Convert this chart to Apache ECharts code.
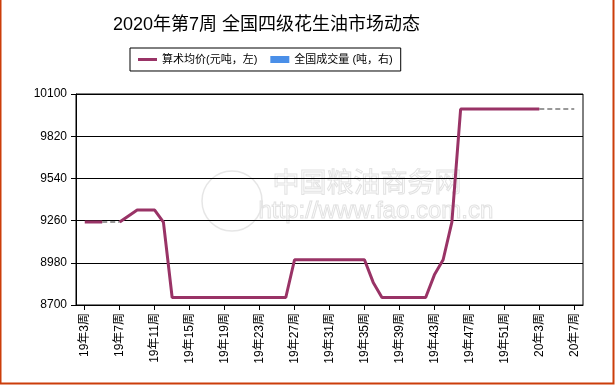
<!DOCTYPE html>
<html>
<head>
<meta charset="utf-8">
<script src="https://cdn.jsdelivr.net/npm/echarts@6/dist/echarts.min.js"></script>
<style>
html,body{margin:0;padding:0;background:#fff;}
#c{width:615px;height:385px;}
</style>
</head>
<body>
<div id="c"></div>
<script>
var titleText = '2020年第7周 全国四级花生油市场动态';
var priceName = '算术均价(元吨，左)';
var volumeName = '全国成交量 (吨，右)';
var weeks = [
  '19年3周','19年4周','19年5周','19年6周','19年7周','19年8周','19年9周','19年10周',
  '19年11周','19年12周','19年13周','19年14周','19年15周','19年16周','19年17周','19年18周',
  '19年19周','19年20周','19年21周','19年22周','19年23周','19年24周','19年25周','19年26周',
  '19年27周','19年28周','19年29周','19年30周','19年31周','19年32周','19年33周','19年34周',
  '19年35周','19年36周','19年37周','19年38周','19年39周','19年40周','19年41周','19年42周',
  '19年43周','19年44周','19年45周','19年46周','19年47周','19年48周','19年49周','19年50周',
  '19年51周','19年52周','20年1周','20年2周','20年3周','20年4周','20年5周','20年6周','20年7周'
];
var price = [
  9250, 9250, 9250, null, 9250, 9290, 9330, 9330, 9330, 9250,
  8750, 8750, 8750, 8750, 8750, 8750, 8750, 8750, 8750, 8750, 8750, 8750, 8750, 8750,
  9000, 9000, 9000, 9000, 9000, 9000, 9000, 9000, 9000,
  8850,
  8750, 8750, 8750, 8750, 8750, 8750,
  8900, 9000, 9250,
  10000, 10000, 10000, 10000, 10000, 10000, 10000, 10000, 10000, 10000,
  null, null, null,
  10000
];
var volume = [];
var yMin = 8700, yMax = 10100, yStep = 280;

var FONT = "'Liberation Sans', 'Noto Sans CJK SC', sans-serif";

// padded category axis so first/last week sit one step inside the frame
var axisCats = [''].concat(weeks).concat(['']);
var priceData = [null].concat(price).concat([null]);

// grey dashed connectors across missing weeks
var gapSeries = [];
(function(){
  var i = 0;
  while (i < priceData.length) {
    if (priceData[i] === null) {
      var s = i - 1;
      var e = i;
      while (e < priceData.length && priceData[e] === null) e++;
      if (s >= 0 && priceData[s] !== null && e < priceData.length) {
        var d = priceData.map(function(){ return null; });
        d[s] = priceData[s];
        d[e] = priceData[e];
        gapSeries.push({
          name: 'gap' + s, type: 'line', data: d, connectNulls: true,
          symbol: 'none', silent: true, z: 1,
          lineStyle: { color: '#999999', width: 2, type: [5, 3] }
        });
      }
      i = e;
    } else i++;
  }
})();

function showIdx(index) { return index >= 1 && index <= weeks.length && (index - 1) % 4 === 0; }

var chart = echarts.init(document.getElementById('c'), null, { renderer: 'canvas' });
chart.setOption({
  animation: false,
  backgroundColor: '#ffffff',
  title: {
    text: titleText, left: 108, top: 11,
    textStyle: { fontFamily: FONT, fontSize: 18, fontWeight: 'normal', color: '#000' }
  },
  legend: {
    data: [
      { name: priceName, icon: 'path://M0,0 L19,0 L19,3 L0,3 Z' },
      { name: volumeName, icon: 'rect' }
    ],
    top: 48, left: 130,
    borderColor: '#000', borderWidth: 1, padding: [6, 8, 6, 8],
    itemWidth: 19, itemHeight: 7, itemGap: 13,
    textStyle: { fontFamily: FONT, fontSize: 11, color: '#000' }
  },
  grid: {
    left: 76, right: 32, top: 94, bottom: 80,
    show: true, borderColor: '#000', borderWidth: 1, backgroundColor: 'transparent'
  },
  xAxis: {
    type: 'category', data: axisCats, boundaryGap: false,
    axisLine: { lineStyle: { color: '#000', width: 1 } },
    axisTick: { show: true, length: 5, interval: function(i){ return showIdx(i); }, lineStyle: { color: '#000' } },
    axisLabel: {
      interval: function(i){ return showIdx(i); }, rotate: 90, margin: 8,
      fontFamily: FONT, fontSize: 12, color: '#000'
    },
    splitLine: { show: false }
  },
  yAxis: [{
    type: 'value', min: yMin, max: yMax, interval: yStep,
    axisLine: { show: true, lineStyle: { color: '#000', width: 1 } },
    axisTick: { show: true, length: 5, lineStyle: { color: '#000' } },
    axisLabel: { margin: 9, fontFamily: FONT, fontSize: 12, color: '#000',
      formatter: function(v){ return String(v); } },
    splitLine: { show: true, lineStyle: { color: '#000', width: 1 } }
  }, {
    type: 'value', show: false
  }],
  graphic: [
    { type: 'rect', z: -10, silent: true, shape: { x: 0.5, y: -5, width: 613, height: 388.5 },
      style: { fill: 'none', stroke: '#cc3d0a', lineWidth: 2 } },
    { type: 'circle', z: -5, silent: true, shape: { cx: 232, cy: 201, r: 30 },
      style: { fill: 'none', stroke: '#e6e6e6', lineWidth: 1.5 } },
    { type: 'text', z: -5, silent: true, left: 272, top: 168,
      style: { text: '中国粮油商务网', font: "27px 'Noto Sans CJK SC'", fill: 'rgba(255,255,255,0)', stroke: '#e2e2e2', lineWidth: 1 } },
    { type: 'text', z: -5, silent: true, left: 258, top: 199,
      style: { text: 'http://www.fao.com.cn', font: "24px 'Liberation Sans'", fill: 'rgba(255,255,255,0)', stroke: '#e2e2e2', lineWidth: 1 } }
  ],
  series: [{
    name: priceName, type: 'line', data: priceData, symbol: 'none', showSymbol: false,
    connectNulls: false, z: 3,
    lineStyle: { color: '#993366', width: 3 }, itemStyle: { color: '#993366' }
  }, {
    name: volumeName, type: 'bar', yAxisIndex: 1, data: volume,
    itemStyle: { color: '#4a8fe8' }
  }].concat(gapSeries)
});
</script>
</body>
</html>
